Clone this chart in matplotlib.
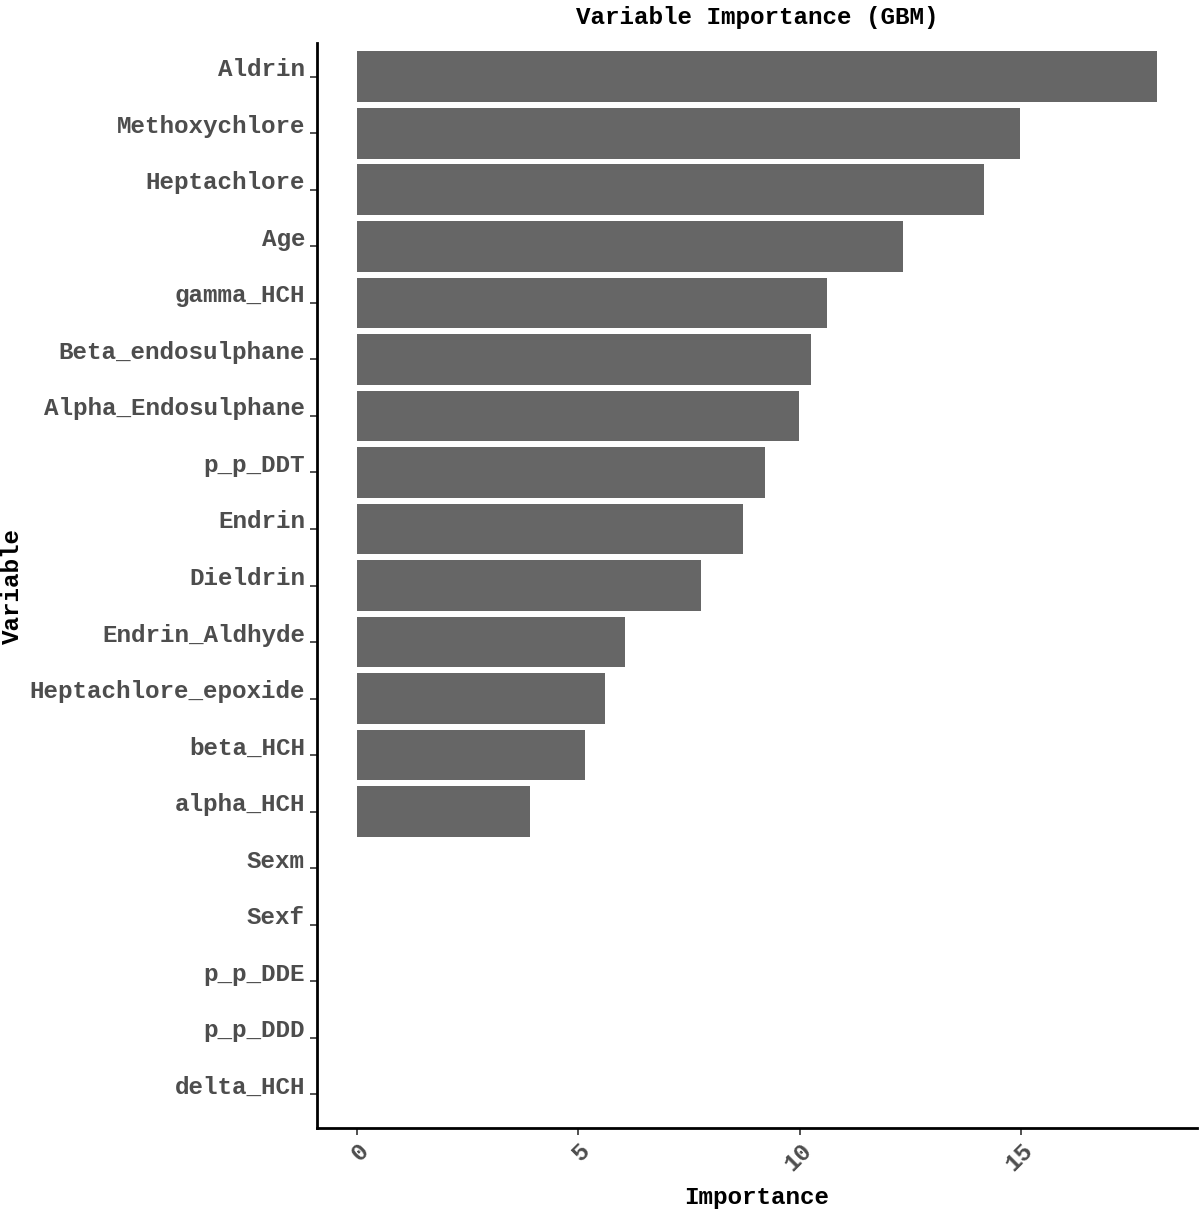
import matplotlib.pyplot as plt
import matplotlib.transforms as mtransforms

# variable importance values
variables = ["Aldrin", "Methoxychlore", "Heptachlore", "Age", "gamma_HCH",
             "Beta_endosulphane", "Alpha_Endosulphane", "p_p_DDT", "Endrin",
             "Dieldrin", "Endrin_Aldhyde", "Heptachlore_epoxide", "beta_HCH",
             "alpha_HCH", "Sexm", "Sexf", "p_p_DDE", "p_p_DDD", "delta_HCH"]
importance = [18.07, 14.98, 14.16, 12.33, 10.62, 10.26, 9.98, 9.22, 8.72,
              7.77, 6.05, 5.60, 5.15, 3.91, 0, 0, 0, 0, 0]
xticks = [0, 5, 10, 15]

font = "Liberation Mono"
label_grey = "#4D4D4D"
fs = 17.5

fig = plt.figure(figsize=(12, 12.13), dpi=100)
ax = fig.add_axes([317 / 1200, 1 - 1128 / 1213, 880 / 1200, 1085 / 1213])

pos = list(range(len(variables)))
ax.barh(pos, importance, height=0.9, color="#666666", linewidth=0)

ax.set_ylim(len(variables) - 1 + 0.6, -0.6)
xmax = max(importance)
ax.set_xlim(-0.05 * xmax, 1.05 * xmax)

# y tick labels drawn by hand so they can sit a little above the ticks
ax.set_yticks(pos)
ax.set_yticklabels([])
lab_trans = mtransforms.blended_transform_factory(ax.transAxes, ax.transData) + \
    mtransforms.ScaledTranslation(-12 / 100, 7 / 100, fig.dpi_scale_trans)
for p, name in zip(pos, variables):
    ax.text(0, p, name, transform=lab_trans, ha="right", va="center",
            fontfamily=font, fontweight="bold", fontsize=fs, color=label_grey)

ax.set_xticks(xticks)
ax.set_xticklabels([str(t) for t in xticks], fontfamily=font, fontweight="bold",
                   fontsize=fs, color=label_grey, rotation=45, ha="right",
                   rotation_mode="anchor")

ax.tick_params(axis="both", length=5, width=1.2, color="#333333", pad=3)
for side in ["top", "right"]:
    ax.spines[side].set_visible(False)
for side in ["left", "bottom"]:
    ax.spines[side].set_linewidth(2)
    ax.spines[side].set_color("black")

ax.set_xlabel("Importance", fontfamily=font, fontweight="bold", fontsize=fs,
              labelpad=7)
ax.set_ylabel("Variable", fontfamily=font, fontweight="bold", fontsize=fs,
              va="center")
ax.yaxis.set_label_coords(-305 / 880, 0.5)
ax.set_title("Variable Importance (GBM)", fontfamily=font, fontweight="bold",
             fontsize=fs, pad=14)

fig.savefig("out.png", dpi=100, facecolor="white")
